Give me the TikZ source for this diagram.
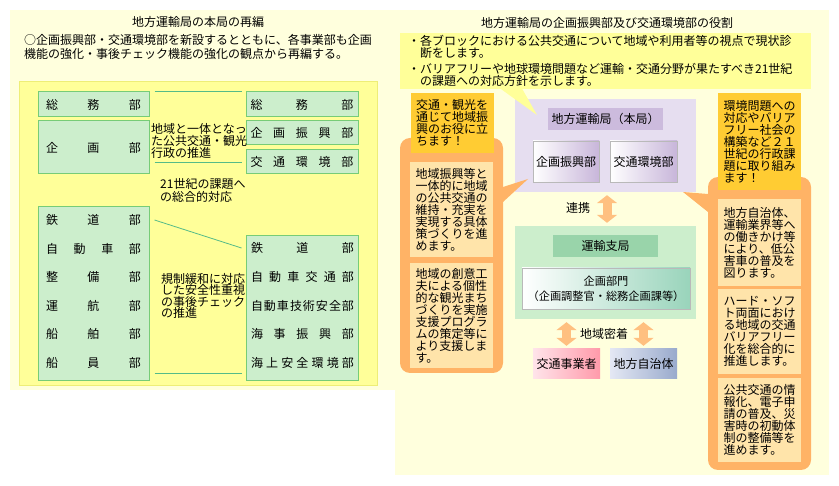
\documentclass[tikz,border=0pt]{standalone}
\usepackage{fontspec}
\setmainfont{Noto Sans CJK JP}
\usetikzlibrary{arrows.meta}
\definecolor{cream}{HTML}{FFFFDD}
\definecolor{yelbg}{HTML}{FFFF99}
\definecolor{yelline}{HTML}{EEEE77}
\definecolor{grnfill}{HTML}{CCEECC}
\definecolor{grnline}{HTML}{77CC77}
\definecolor{linkc}{HTML}{55BB88}
\definecolor{orng}{HTML}{FFB366}
\definecolor{gold}{HTML}{FFCC33}
\definecolor{peach}{HTML}{FFE4AA}
\definecolor{lav}{HTML}{E6DEF0}
\definecolor{lavt}{HTML}{CCBBDD}
\definecolor{lavg}{HTML}{C8B6DA}
\definecolor{grnt}{HTML}{99D4AA}
\definecolor{grng}{HTML}{99D4BB}
\definecolor{arrc}{HTML}{FFC080}
\definecolor{pinkl}{HTML}{FFE4EA}
\definecolor{pinkr}{HTML}{FF9AAA}
\definecolor{bluel}{HTML}{E4E8F4}
\definecolor{bluer}{HTML}{99AACC}
\newcommand{\spreadbox}[2]{\makebox[#1][s]{#2}}
\begin{document}
\begin{tikzpicture}[x=1pt, y=-1pt,
    every node/.style={inner sep=0pt, font=\fontsize{12}{12}\selectfont},
    grnbox/.style={draw=grnline, fill=grnfill, line width=1pt, minimum width=111pt},
    pchbox/.style={fill=peach, minimum width=83pt, align=left},
    gldbox/.style={fill=gold, minimum width=83pt, align=left},
    gradbox/.style={draw=gray!55, line width=0.8pt, left color=white, right color=#1},
    link/.style={draw=linkc, line width=0.8pt},
    fatarrow/.style={draw=arrc, line width=9pt, {Triangle[width=20pt,length=8pt]}-{Triangle[width=20pt,length=8pt]}, shorten <=3pt, shorten >=3pt}]
    \useasboundingbox (0,0) rectangle (839,486);
    \fill[cream] (10,10) rectangle (395,390);
    \fill[cream] (395,10) rectangle (829,475);
    % left: reorganisation
    \node (titleL) at (198,22) {地方運輸局の本局の再編};
    \node[anchor=west, align=left, font=\fontsize{12}{14}\selectfont] (introL) at (24,47) {○企画振興部・交通環境部を新設するとともに、各事業部も企画\\機能の強化・事後チェック機能の強化の観点から再編する。};
    \filldraw[fill=yelbg, draw=yelline] (19,81) rectangle (377,385);
    \node[grnbox, minimum height=25pt] (soumuL) at (93.5,104.5) {\spreadbox{95pt}{総\hfill 務\hfill 部}};
    \node[grnbox, minimum height=53pt] (kikakuL) at (93.5,147.5) {\spreadbox{95pt}{企\hfill 画\hfill 部}};
    \node[grnbox, minimum height=174pt] (jigyoL) at (93.5,294) {};
    \foreach \t [count=\i from 0] in {{鉄\hfill 道\hfill 部},{自\hfill 動\hfill 車\hfill 部},{整\hfill 備\hfill 部},{運\hfill 航\hfill 部},{船\hfill 舶\hfill 部},{船\hfill 員\hfill 部}}
        \node (l\i) at (93.5,220+28.6*\i) {\spreadbox{95pt}{\t}};
    \node[grnbox, minimum width=112pt, minimum height=25pt] (soumuR) at (302,104.5) {\spreadbox{103pt}{総\hfill 務\hfill 部}};
    \node[grnbox, minimum width=112pt, minimum height=24pt] (shinkoR) at (302,133) {\spreadbox{103pt}{企\hfill 画\hfill 振\hfill 興\hfill 部}};
    \node[grnbox, minimum width=112pt, minimum height=24pt] (kankyoR) at (302,162) {\spreadbox{103pt}{交\hfill 通\hfill 環\hfill 境\hfill 部}};
    \node[grnbox, minimum width=112pt, minimum height=145pt] (jigyoR) at (302,308.5) {};
    \foreach \t [count=\i from 0] in {{鉄\hfill 道\hfill 部},{自\hfill 動\hfill 車\hfill 交\hfill 通\hfill 部},{自\hfill 動\hfill 車\hfill 技\hfill 術\hfill 安\hfill 全\hfill 部},{海\hfill 事\hfill 振\hfill 興\hfill 部},{海\hfill 上\hfill 安\hfill 全\hfill 環\hfill 境\hfill 部}}
        \node (r\i) at (302.5,248+28.75*\i) {\spreadbox{103pt}{\t}};
    \draw[link] ([xshift=5pt]soumuL.north east) -- ([xshift=-4pt]soumuR.north west);
    \draw[link] ([xshift=5pt]kikakuL.east |- kankyoR.center) -- ([xshift=-4pt]kankyoR.west);
    \draw[link] ([xshift=5pt]jigyoL.east |- l0) -- ([xshift=-4pt]jigyoR.west |- r0);
    \draw[link] ([xshift=5pt,yshift=8pt]jigyoL.south east) -- ([xshift=-4pt,yshift=8pt]jigyoR.south west);
    \node[anchor=west, align=left, font=\fontsize{12}{11}\selectfont] (pol1) at (151,141) {地域と一体となっ\\た公共交通・観光\\行政の推進};
    \node[anchor=west, align=left, font=\fontsize{12}{11}\selectfont] (pol2) at (160,190.5) {21世紀の課題へ\\の総合的対応};
    \node[anchor=west, align=left, font=\fontsize{12}{11.4}\selectfont] (pol3) at (161,296) {規制緩和に対応\\した安全性重視\\の事後チェック\\の推進};
    % right: roles
    \node (titleR) at (607,23) {地方運輸局の企画振興部及び交通環境部の役割};
    \node[fill=yelbg, minimum width=411pt, minimum height=56pt, text width=395pt, align=left, font=\fontsize{12}{11}\selectfont] (roles) at (605.5,61) {・各ブロックにおける公共交通について地域や利用者等の視点で現状診\\\hspace*{1em}断をします。\\[4pt]・バリアフリーや地球環境問題など運輸・交通分野が果たすべき21世紀\\\hspace*{1em}の課題への対応方針を示します。};
    \node[fill=lav, minimum width=181pt, minimum height=93pt] (hq) at (605.5,145.5) {};
    \node[fill=lavt, minimum width=115pt, minimum height=22pt] (hqt) at (605.5,119) {地方運輸局（本局）};
    \node[gradbox=lavg, minimum width=66pt, minimum height=41pt] (shinko) at (566,161.5) {企画振興部};
    \node[gradbox=lavg, minimum width=67pt, minimum height=41pt] (kankyo) at (643.5,161.5) {交通環境部};
    \node[fill=grnfill, minimum width=181pt, minimum height=93pt] (branch) at (605.5,272.5) {};
    \node[fill=grnt, minimum width=105pt, minimum height=22pt] (brt) at (605.5,246) {運輸支局};
    \node[gradbox=grng, minimum width=168pt, minimum height=41pt, align=center, font=\fontsize{11.2}{15}\selectfont] (bumon) at (606,288.5) {企画部門\\（企画調整官・総務企画課等）};
    \node[left color=pinkl, right color=pinkr, minimum width=67pt, minimum height=30pt] (kotsu) at (566.5,364) {交通事業者};
    \node[left color=bluel, right color=bluer, minimum width=67pt, minimum height=30pt] (jichitai) at (643.5,364) {地方自治体};
    \node (renkei) at (578,208) {連携};
    \node (mitchaku) at (604,334) {地域密着};
    \draw[fatarrow] ([xshift=1.5pt]hq.south) -- ([xshift=1.5pt]branch.north);
    \draw[fatarrow] (kotsu.north |- branch.south) -- (kotsu.north);
    \draw[fatarrow] (jichitai.north |- branch.south) -- (jichitai.north);
    \fill[yelbg] ([xshift=100pt,yshift=1pt]roles.south west) -- (537,115) -- ([xshift=122pt,yshift=1pt]roles.south west) -- cycle; % Callout
    % orange columns
    \fill[orng, rounded corners=10pt] (400,138) rectangle (503,373);
    \fill[orng] (503,187) -- (528,179) -- (503,202) -- cycle;
    \fill[orng, rounded corners=10pt] (708,177) rectangle (811,470);
    \fill[orng] (708,194) -- (683,192) -- (708,212) -- cycle;
    \node[gldbox, minimum height=60pt] (goalL) at (452,123) {交通・観光を\\通じて地域振\\興のお役に立\\ちます！};
    \node[pchbox, minimum height=95pt] (roleL1) at (451.5,209.5) {地域振興等と\\一体的に地域\\の公共交通の\\維持・充実を\\実現する具体\\策づくりを進\\めます。};
    \node[pchbox, minimum height=105pt] (roleL2) at (451.5,315.5) {地域の創意工\\夫による個性\\的な観光まち\\づくりを実施\\支援プログラ\\ムの策定等に\\より支援しま\\す。};
    \node[gldbox, minimum height=97pt] (goalR) at (759.5,141.5) {環境問題への\\対応やバリア\\フリー社会の\\構築など２１\\世紀の行政課\\題に取り組み\\ます！};
    \node[pchbox, minimum height=87pt] (roleR1) at (759.5,242.5) {地方自治体、\\運輸業界等へ\\の働きかけ等\\により、低公\\害車の普及を\\図ります。};
    \node[pchbox, minimum height=85pt] (roleR2) at (759.5,331.5) {ハード・ソフ\\ト両面におけ\\る地域の交通\\バリアフリー\\化を総合的に\\推進します。};
    \node[pchbox, minimum height=84pt] (roleR3) at (759.5,420) {公共交通の情\\報化、電子申\\請の普及、災\\害時の初動体\\制の整備等を\\進めます。};
\end{tikzpicture}
\end{document}
